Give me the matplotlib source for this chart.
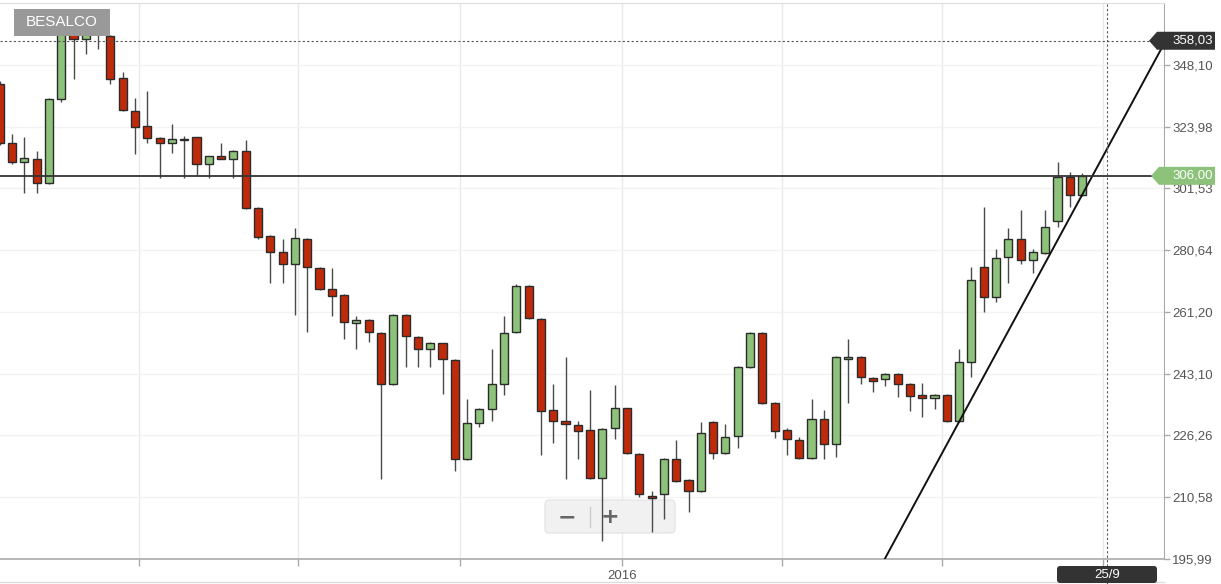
import numpy as np
import pandas as pd
import matplotlib
matplotlib.use("Agg")
import matplotlib.pyplot as plt
import matplotlib.dates as mdates
import matplotlib.ticker as mticker
import matplotlib.transforms as mtransforms
from matplotlib.patches import Polygon, FancyBboxPatch, Rectangle
from matplotlib.lines import Line2D

plt.rcParams['font.family'] = ['Liberation Sans', 'DejaVu Sans']

# ---- datos (velas semanales) ----
ticker_name = "BESALCO"
dates = pd.date_range("2015-01-12", periods=89, freq="7D")

opens = [340.5, 317.9, 311.0, 312.1, 303.5, 334.6, 363.3, 358.8, 364.5, 360.0,
         342.9, 330.0, 324.3, 319.8, 317.9, 319.0, 320.1, 310.2, 313.1, 312.1,
         315.0, 294.8, 285.3, 280.1, 276.2, 284.3, 274.9, 268.3, 266.4, 257.9,
         258.8, 254.9, 240.2, 260.3, 253.7, 250.2, 251.9, 247.0, 220.2, 229.6,
         233.3, 240.2, 255.2, 269.2, 259.1, 233.1, 230.1, 229.0, 227.7, 215.3,
         228.2, 233.5, 221.5, 210.9, 211.4, 220.2, 214.8, 212.1, 229.8, 221.7,
         226.1, 245.0, 254.9, 235.0, 227.7, 225.1, 220.4, 230.6, 224.0, 247.3,
         247.9, 241.9, 241.6, 243.0, 240.2, 237.2, 236.3, 237.2, 230.1, 246.4,
         275.2, 265.8, 278.4, 284.3, 277.5, 279.7, 290.4, 305.6, 299.3]
highs = [341.5, 321.3, 320.1, 315.0, 335.0, 364.0, 365.0, 365.0, 366.0, 360.3,
         345.3, 335.0, 337.8, 320.0, 325.0, 320.5, 320.3, 313.3, 317.9, 315.2,
         319.0, 295.0, 285.5, 284.3, 288.0, 284.6, 275.2, 274.9, 266.6, 260.0,
         259.0, 255.2, 260.5, 260.5, 254.0, 252.1, 252.0, 247.2, 236.1, 233.5,
         250.2, 260.0, 269.8, 269.5, 259.3, 240.2, 247.9, 230.1, 238.5, 228.2,
         239.9, 233.7, 221.7, 212.1, 220.4, 225.1, 215.0, 229.8, 230.0, 229.3,
         245.2, 255.1, 255.1, 235.2, 228.2, 225.9, 236.1, 233.1, 248.1, 253.1,
         248.1, 242.1, 243.2, 243.2, 240.4, 240.5, 237.4, 237.4, 250.2, 275.2,
         295.1, 281.0, 288.0, 294.1, 281.0, 294.1, 311.0, 307.4, 307.0]
lows = [317.0, 310.2, 300.0, 300.0, 303.2, 333.5, 342.5, 352.6, 354.6, 340.5,
        330.0, 313.9, 317.9, 305.2, 314.2, 305.2, 306.3, 305.2, 311.9, 305.2,
        294.5, 284.3, 270.2, 270.2, 260.3, 255.2, 268.0, 260.0, 253.1, 250.2,
        252.2, 215.1, 240.0, 245.0, 245.0, 245.0, 237.4, 217.1, 220.0, 228.5,
        230.1, 237.2, 254.9, 259.2, 221.2, 224.3, 215.1, 220.2, 215.2, 200.1,
        225.3, 221.5, 210.6, 202.2, 205.3, 214.4, 207.0, 211.9, 220.2, 221.5,
        223.0, 244.7, 234.7, 225.6, 221.2, 220.2, 220.2, 220.2, 220.7, 235.0,
        240.2, 238.0, 239.7, 236.6, 232.8, 231.2, 233.3, 229.9, 229.9, 242.2,
        261.2, 264.3, 270.2, 276.2, 273.3, 279.5, 288.3, 295.1, 299.0]
closes = [317.9, 311.0, 312.4, 303.5, 334.6, 362.5, 358.8, 363.0, 362.0, 342.5,
          330.4, 323.9, 319.8, 317.9, 319.4, 319.4, 310.2, 313.1, 312.1, 315.0,
          294.8, 285.0, 280.1, 276.2, 284.6, 275.2, 268.3, 266.1, 258.2, 258.8,
          255.2, 240.2, 260.3, 254.0, 250.2, 251.9, 247.3, 220.2, 229.6, 233.3,
          240.2, 254.9, 269.2, 259.4, 232.8, 230.1, 229.3, 227.4, 215.3, 228.0,
          233.5, 221.7, 211.4, 210.4, 220.2, 214.6, 212.1, 226.9, 221.7, 225.9,
          245.0, 254.9, 235.0, 227.4, 225.3, 220.4, 230.6, 224.0, 247.9, 247.9,
          242.2, 241.0, 243.0, 240.2, 236.9, 236.3, 237.2, 230.1, 246.4, 271.1,
          265.8, 278.1, 284.3, 277.5, 280.1, 288.3, 305.6, 299.3, 306.0]

price_ticks = [195.99, 210.58, 226.26, 243.10, 261.20, 280.64, 301.53, 323.98, 348.10]
last_price = 306.00
cursor_price = 358.03
cursor_date = pd.Timestamp("2016-10-03")
cursor_label = "25/9"
# linea de tendencia por dos minimos
trend_dates = [pd.Timestamp("2016-07-11"), pd.Timestamp("2016-09-19")]
trend_prices = [229.9, 299.3]

GREEN = "#8cc27a"
RED = "#bf2a0b"
W, H = 1221, 584

fig = plt.figure(figsize=(W / 100, H / 100), dpi=100)
ax = fig.add_axes([0, (H - 559) / H, 1164 / W, (559 - 3) / H])
ax.set_yscale('log')
ax.set_ylim(195.99, 374.1)

x = mdates.date2num(dates)
o = np.array(opens)
c = np.array(closes)
colors = np.where(c >= o, GREEN, RED)

ax.vlines(x, lows, highs, color='#4a4a4a', lw=1.0, zorder=3)
ax.bar(x, np.abs(c - o), bottom=np.minimum(o, c), width=4.6, color=colors,
       edgecolor='#2b2b2b', linewidth=1.0, zorder=4)

x0 = x[0]
ax.set_xlim(x0 + 0.17, x0 + 662.6)

# linea de tendencia extendida (recta en escala log)
tx = mdates.date2num(trend_dates)
slope = (np.log(trend_prices[1]) - np.log(trend_prices[0])) / (tx[1] - tx[0])
xs = np.array([tx[0] - 60, x0 + 700])
ax.plot(xs, np.exp(np.log(trend_prices[0]) + slope * (xs - tx[0])),
        color='#111111', lw=1.4, zorder=5)

# lineas horizontales / cruz
ax.axhline(last_price, color='#333333', lw=1.3, zorder=5)
ax.axhline(cursor_price, color='#555555', lw=0.8, ls=(0, (2, 2)), zorder=5)
ax.axvline(mdates.date2num(cursor_date), ymin=-0.045, ymax=1, color='#555555',
           lw=0.8, ls=(0, (2, 2)), zorder=5, clip_on=False)

# ejes
ax.yaxis.tick_right()
ax.yaxis.set_major_locator(mticker.FixedLocator(price_ticks))
ax.yaxis.set_minor_locator(mticker.NullLocator())
ax.yaxis.set_minor_formatter(mticker.NullFormatter())
ax.yaxis.set_major_formatter(mticker.FuncFormatter(lambda v, p: f"{v:.2f}".replace(".", ",")))
ax.tick_params(axis='y', length=4, width=1, color='#aaaaaa', pad=2,
               labelsize=9.5, labelcolor='#555555')

ax.xaxis.set_major_locator(mdates.MonthLocator(bymonth=[1, 4, 7, 10]))
ax.xaxis.set_major_formatter(mticker.FuncFormatter(
    lambda v, p: str(mdates.num2date(v).year) if mdates.num2date(v).month == 1 else ""))
ax.tick_params(axis='x', length=5, width=1, color='#aaaaaa', pad=3,
               labelsize=9.5, labelcolor='#555555')

ax.grid(axis='x', color='#e9e9e9', lw=1)
ax.grid(axis='y', color='#f2f2f2', lw=1)
ax.set_axisbelow(True)
ax.spines['left'].set_visible(False)
ax.spines['top'].set_color('#dddddd')
ax.spines['right'].set_color('#aaaaaa')
ax.spines['bottom'].set_color('#aaaaaa')
ax.spines['bottom'].set_linewidth(1.2)

fig.canvas.draw()
ident = mtransforms.IdentityTransform()


def badge(value, text, color, left=1150):
    yc = ax.transData.transform((x0, value))[1]
    verts = [(left, yc), (left + 8, yc - 9), (1215, yc - 9), (1215, yc + 9), (left + 8, yc + 9)]
    fig.add_artist(Polygon(verts, closed=True, fc=color, ec='none', transform=ident, zorder=6))
    fig.text(1172 / W, yc / H, text, color='white', fontsize=9.5, ha='left', va='center', zorder=7)


badge(cursor_price, f"{cursor_price:.2f}".replace(".", ","), '#333333', left=1149)
badge(last_price, f"{last_price:.2f}".replace(".", ","), GREEN, left=1151)

# etiqueta de fecha de la cruz
fig.add_artist(FancyBboxPatch((1057, H - 583), 100, 17, boxstyle='round,pad=0,rounding_size=3',
                              fc='#333333', ec='none', transform=ident, zorder=6))
fig.text(1107 / W, (H - 574.5) / H, cursor_label, color='white', fontsize=9.5,
         ha='center', va='center', zorder=7)

# nombre del instrumento
fig.add_artist(Rectangle((14, H - 36), 96, 27, fc='#999999', ec='none', transform=ident, zorder=6))
fig.text(62 / W, (H - 22.5) / H, ticker_name, color='white', fontsize=11,
         ha='center', va='center', zorder=7)

# control de zoom (debajo de las velas)
ax.add_patch(FancyBboxPatch((545, H - 533), 130, 33, boxstyle='round,pad=0,rounding_size=4',
                            fc='#f0f0f0', ec='#e4e4e4', lw=1, alpha=0.9,
                            transform=ident, zorder=1, clip_on=False))
ax.add_line(Line2D([590, 590], [H - 527, H - 507], color='#cccccc', lw=1,
                   transform=ident, zorder=1, clip_on=False))
ax.text(567, H - 517, "\u2212", transform=ident, fontsize=16, fontweight='bold',
        color='#666666', ha='center', va='center', zorder=1, family='DejaVu Sans')
ax.text(610, H - 517, "+", transform=ident, fontsize=16, fontweight='bold',
        color='#666666', ha='center', va='center', zorder=1, family='DejaVu Sans')

# linea inferior del navegador
fig.add_artist(Line2D([0, 1164], [H - 582, H - 582], color='#dddddd', lw=1, transform=ident, zorder=0))

fig.savefig("out.png", dpi=100)
